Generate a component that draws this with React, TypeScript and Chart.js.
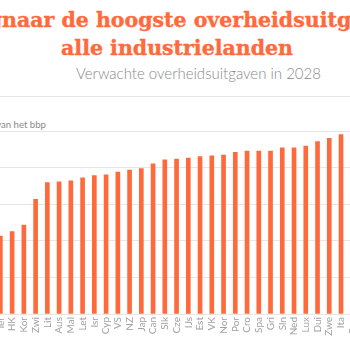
import React, { useEffect, useRef } from "react";
import { Chart, registerables } from "chart.js";

Chart.register(...registerables);

const countries: string[] = [
  "Sin", "Tai", "Ier", "HK", "Kor", "Zwi", "Lit", "Aus", "Mal", "Let", "Isr", "Cyp",
  "VS", "NZ", "Jap", "Can", "Slk", "Cze", "IJs", "Est", "VK", "Nor", "Por", "Cro",
  "Spa", "Gri", "Sln", "Ned", "Lux", "Dui", "Zwe", "Ita", "Oos", "Bel", "Fra", "Fin",
];

const spending2028: number[] = [
  15.0, 17.0, 21.3, 22.5, 24.3, 31.3, 35.9, 36.1, 36.4, 37.2, 37.8, 38.0,
  38.8, 39.3, 39.7, 41.0, 42.1, 42.3, 42.6, 43.0, 43.2, 43.4, 44.2, 44.5,
  44.5, 44.5, 45.4, 45.4, 45.9, 47.1, 48.0, 49.0, 50.5, 54.0, 55.5, 56.0,
];

const yTicks: number[] = [0, 10, 20, 30, 40, 50];

const titleLine1Hidden = "België op weg ";
const titleLine1 = "naar de hoogste overheidsuitgaven van";
const titleLine2 = "alle industrielanden";
const subtitle = "Verwachte overheidsuitgaven in 2028";
const axisNote = "in % van het bbp";

const ORANGE = "#ff6a3d";

const titleStyle: React.CSSProperties = {
  position: "absolute",
  whiteSpace: "nowrap",
  fontFamily: "'DejaVu Serif', serif",
  fontWeight: 700,
  fontSize: 20.5,
  lineHeight: "24px",
  color: ORANGE,
  WebkitTextStroke: "0.4px " + ORANGE,
};

export default function App() {
  const canvasRef = useRef<HTMLCanvasElement | null>(null);

  useEffect(() => {
    if (!canvasRef.current) return;
    const chart = new Chart(canvasRef.current, {
      type: "bar",
      data: {
        labels: countries,
        datasets: [
          {
            data: spending2028,
            backgroundColor: ORANGE,
            borderWidth: 0,
            barThickness: 4,
          },
        ],
      },
      options: {
        animation: false,
        responsive: true,
        maintainAspectRatio: false,
        layout: { padding: { top: 5, left: 0, right: 0, bottom: 0 } },
        plugins: {
          legend: { display: false },
          tooltip: { enabled: false },
          title: { display: false },
        },
        scales: {
          x: {
            grid: { display: false, drawTicks: false },
            border: { display: false },
            ticks: {
              autoSkip: false,
              maxRotation: 90,
              minRotation: 90,
              padding: 3,
              color: "#a0a0a0",
              font: { family: "Lato", size: 10 },
            },
            afterFit: (scale: any) => {
              scale.height = 36;
            },
          },
          y: {
            min: yTicks[0],
            max: yTicks[yTicks.length - 1],
            grid: { color: "#e6e6e6", lineWidth: 1, drawTicks: false },
            border: { display: false },
            ticks: { display: false, stepSize: 10 },
            afterFit: (scale: any) => {
              scale.width = 0;
            },
          },
        },
      },
    });
    return () => chart.destroy();
  }, []);

  return (
    <div
      style={{
        position: "fixed",
        left: 0,
        top: 0,
        width: 350,
        height: 350,
        overflow: "hidden",
        background: "#fff",
      }}
    >
      <div style={{ ...titleStyle, top: 8, right: 348 }}>{titleLine1Hidden}</div>
      <div style={{ ...titleStyle, top: 8, left: 2 }}>{titleLine1}</div>
      <div style={{ ...titleStyle, top: 36, left: 177, transform: "translateX(-50%)" }}>
        {titleLine2}
      </div>
      <div
        style={{
          position: "absolute",
          top: 64,
          left: 76,
          whiteSpace: "nowrap",
          fontFamily: "Lato, sans-serif",
          fontWeight: 300,
          fontSize: 15,
          lineHeight: "18px",
          color: "#8a8a8a",
        }}
      >
        {subtitle}
      </div>
      <div
        style={{
          position: "absolute",
          top: 96,
          left: 0,
          width: 350,
          height: 1,
          background: "#e8e8e8",
        }}
      />
      <div
        style={{
          position: "absolute",
          top: 119,
          right: 304,
          whiteSpace: "nowrap",
          fontFamily: "Lato, sans-serif",
          fontSize: 9.6,
          lineHeight: "12px",
          color: "#8a8a8a",
        }}
      >
        {axisNote}
      </div>
      <div
        style={{
          position: "absolute",
          left: -29,
          top: 126,
          width: 432,
          height: 224,
        }}
      >
        <canvas ref={canvasRef} />
      </div>
    </div>
  );
}
